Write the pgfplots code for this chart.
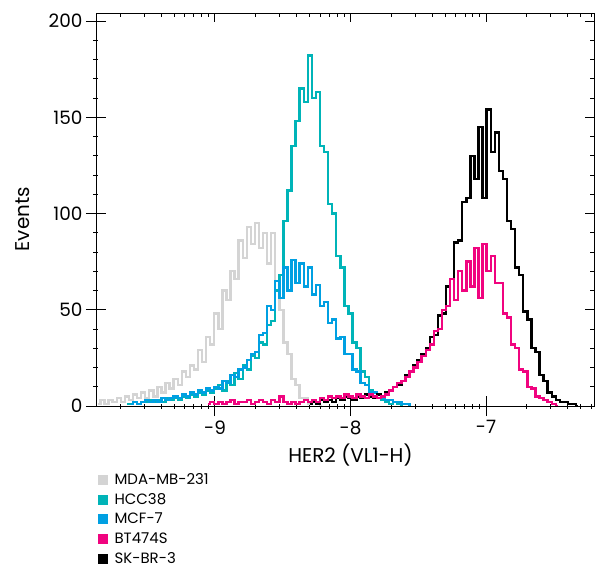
\documentclass[border=0pt]{standalone}
\usepackage{fontspec}
\setmainfont{Poppins}
\usepackage{pgfplots}
\pgfplotsset{compat=1.18}
\definecolor{mdagray}{RGB}{212,212,212}
\definecolor{hccteal}{RGB}{0,180,184}
\definecolor{mcfblue}{RGB}{0,160,226}
\definecolor{btpink}{RGB}{240,4,127}
\definecolor{skblack}{RGB}{0,0,0}
\begin{document}
\begin{tikzpicture}
\pgfplotsset{
  common/.style={
    scale only axis, width=498bp, height=392.5bp,
    xmin=-9.878, xmax=-6.203, ymin=0, ymax=203.9,
    xtick={-9,-8,-7}, ytick={0,50,100,150,200},
    minor xtick={-9.699,-9.523,-9.398,-9.301,-9.222,-9.155,-9.097,-9.046,
                 -8.699,-8.523,-8.398,-8.301,-8.222,-8.155,-8.097,-8.046,
                 -7.699,-7.523,-7.398,-7.301,-7.222,-7.155,-7.097,-7.046,
                 -6.699,-6.523,-6.398,-6.301,-6.222},
    minor ytick={10,20,30,40,60,70,80,90,110,120,130,140,160,170,180,190},
    axis line style={line width=1pt},
    every tick/.style={black, line width=1pt},
  },
  hist/.style={const plot mark mid, line width=2.4pt, line join=miter},
}
\begin{axis}[common, name=ax,
  xtick pos=left, ytick pos=left, tick align=center,
  major tick length=20bp, minor tick length=5bp,
  xticklabels={-9,-8,-7},
  /pgf/number format/assume math mode=true,
  tick label style={font=\fontsize{18.5}{20}\selectfont},
  xticklabel style={yshift=-1bp},
  xlabel={HER2 (VL1-H)}, ylabel={Events},
  every axis x label/.style={at={(axis description cs:0.511,-0.145)}, anchor=base, font=\fontsize{20}{24}\selectfont},
  every axis y label/.style={at={(axis description cs:-0.147,0.476)}, rotate=90, anchor=center, font=\fontsize{20}{24}\selectfont},
  legend style={at={(axis description cs:0.004,-0.166)}, anchor=north west, draw=none, fill=none,
    font=\fontsize{15}{18}\selectfont, row sep=3.3bp, inner sep=0pt},
  legend cell align=left,
  legend image code/.code={\fill[#1] (0bp,-4.5bp) rectangle (9bp,4.5bp); \path (14bp,0bp);},
]
% MDA-MB-231
\addplot[hist, mdagray, forget plot] coordinates {
(-9.86,1)(-9.83,3)(-9.80,1)(-9.77,3)(-9.74,2)(-9.71,4)(-9.68,2)(-9.65,5)(-9.62,3)(-9.59,6)
(-9.56,4)(-9.53,7)(-9.50,4)(-9.47,8)(-9.44,5)(-9.41,10)(-9.38,7)(-9.35,12)(-9.32,9)(-9.29,14)
(-9.26,11)(-9.23,18)(-9.20,15)(-9.17,21)(-9.14,19)(-9.11,29)(-9.08,23)(-9.05,36)(-9.02,32)(-8.99,48)
(-8.96,40)(-8.93,60)(-8.90,55)(-8.87,70)(-8.84,66)(-8.81,86)(-8.78,77)(-8.75,93)(-8.72,84)(-8.69,95)
(-8.66,82)(-8.63,90)(-8.60,74)(-8.57,90)(-8.54,60)(-8.51,50)(-8.48,33)(-8.45,27)(-8.42,14)(-8.39,11)
(-8.36,4)(-8.33,4)(-8.30,1)(-8.27,2)(-8.24,1)(-8.21,0)};
% HCC38
\addplot[hist, hccteal, forget plot] coordinates {
(-9.65,1)(-9.62,1)(-9.59,2)(-9.56,1)(-9.53,2)(-9.50,2)(-9.47,3)(-9.44,2)(-9.41,3)(-9.38,2)
(-9.35,4)(-9.32,3)(-9.29,4)(-9.26,3)(-9.23,5)(-9.20,4)(-9.17,6)(-9.14,5)(-9.11,7)(-9.08,6)
(-9.05,8)(-9.02,7)(-8.99,9)(-8.96,11)(-8.93,8)(-8.90,13)(-8.87,11)(-8.84,17)(-8.81,14)(-8.78,21)
(-8.75,19)(-8.72,26)(-8.69,25)(-8.66,33)(-8.63,32)(-8.60,42)(-8.57,44)(-8.54,60)(-8.51,68)(-8.48,96)
(-8.45,112)(-8.42,135)(-8.39,148)(-8.36,165)(-8.33,158)(-8.30,182)(-8.27,160)(-8.24,163)(-8.21,135)(-8.18,132)
(-8.15,105)(-8.12,100)(-8.09,78)(-8.06,72)(-8.03,52)(-8.00,48)(-7.97,33)(-7.94,30)(-7.91,18)(-7.88,15)
(-7.85,8)(-7.82,7)(-7.79,4)(-7.76,3)(-7.73,2)(-7.70,1)(-7.67,2)(-7.64,1)(-7.61,0)};
% MCF-7
\addplot[hist, mcfblue, forget plot] coordinates {
(-9.62,1)(-9.59,2)(-9.56,1)(-9.53,2)(-9.50,3)(-9.47,2)(-9.44,3)(-9.41,2)(-9.38,4)(-9.35,3)
(-9.32,4)(-9.29,5)(-9.26,4)(-9.23,6)(-9.20,5)(-9.17,7)(-9.14,6)(-9.11,8)(-9.08,7)(-9.05,9)
(-9.02,8)(-8.99,10)(-8.96,9)(-8.93,13)(-8.90,12)(-8.87,16)(-8.84,15)(-8.81,19)(-8.78,20)(-8.75,24)
(-8.72,27)(-8.69,28)(-8.66,37)(-8.63,38)(-8.60,52)(-8.57,50)(-8.54,65)(-8.51,56)(-8.48,72)(-8.45,60)
(-8.42,76)(-8.39,64)(-8.36,74)(-8.33,62)(-8.30,72)(-8.27,58)(-8.24,63)(-8.21,52)(-8.18,54)(-8.15,43)
(-8.12,45)(-8.09,35)(-8.06,36)(-8.03,27)(-8.00,27)(-7.97,19)(-7.94,18)(-7.91,12)(-7.88,11)(-7.85,7)
(-7.82,7)(-7.79,4)(-7.76,4)(-7.73,3)(-7.70,3)(-7.67,2)(-7.64,2)(-7.61,1)(-7.58,1)(-7.55,0)};
% SK-BR-3
\addplot[hist, skblack, forget plot] coordinates {
(-8.30,1)(-8.27,2)(-8.24,1)(-8.21,3)(-8.18,2)(-8.15,3)(-8.12,2)(-8.09,4)(-8.06,3)(-8.03,5)
(-8.00,4)(-7.97,3)(-7.94,5)(-7.91,4)(-7.88,6)(-7.85,5)(-7.82,4)(-7.79,6)(-7.76,5)(-7.73,7)
(-7.70,8)(-7.67,10)(-7.64,11)(-7.61,13)(-7.58,16)(-7.55,18)(-7.52,21)(-7.49,24)(-7.46,27)(-7.43,30)
(-7.40,36)(-7.37,37)(-7.34,47)(-7.31,48)(-7.28,62)(-7.25,66)(-7.22,85)(-7.19,86)(-7.16,106)(-7.13,108)
(-7.10,130)(-7.07,118)(-7.04,145)(-7.01,108)(-6.98,154)(-6.95,132)(-6.92,142)(-6.89,122)(-6.86,118)(-6.83,96)
(-6.80,92)(-6.77,72)(-6.74,68)(-6.71,49)(-6.68,45)(-6.65,30)(-6.62,28)(-6.59,16)(-6.56,13)(-6.53,7)
(-6.50,5)(-6.47,3)(-6.44,2)(-6.41,2)(-6.38,1)(-6.35,1)(-6.32,0)};
% BT474S
\addplot[hist, btpink, forget plot] coordinates {
(-9.05,1)(-9.02,2)(-8.99,1)(-8.96,2)(-8.93,1)(-8.90,2)(-8.87,3)(-8.84,1)(-8.81,2)(-8.78,2)
(-8.75,3)(-8.72,1)(-8.69,2)(-8.66,3)(-8.63,2)(-8.60,1)(-8.57,3)(-8.54,2)(-8.51,5)(-8.48,2)
(-8.45,1)(-8.42,2)(-8.39,1)(-8.36,2)(-8.33,3)(-8.30,2)(-8.27,3)(-8.24,2)(-8.21,4)(-8.18,3)
(-8.15,5)(-8.12,4)(-8.09,5)(-8.06,4)(-8.03,6)(-8.00,5)(-7.97,4)(-7.94,6)(-7.91,5)(-7.88,4)
(-7.85,6)(-7.82,5)(-7.79,4)(-7.76,5)(-7.73,6)(-7.70,8)(-7.67,10)(-7.64,12)(-7.61,13)(-7.58,15)
(-7.55,18)(-7.52,20)(-7.49,23)(-7.46,26)(-7.43,29)(-7.40,32)(-7.37,39)(-7.34,40)(-7.31,50)(-7.28,52)
(-7.25,66)(-7.22,55)(-7.19,70)(-7.16,60)(-7.13,75)(-7.10,62)(-7.07,82)(-7.04,56)(-7.01,84)(-6.98,70)
(-6.95,78)(-6.92,64)(-6.89,64)(-6.86,48)(-6.83,46)(-6.80,32)(-6.77,30)(-6.74,19)(-6.71,18)(-6.68,10)
(-6.65,9)(-6.62,5)(-6.59,4)(-6.56,3)(-6.53,2)(-6.50,1)(-6.47,0)};
\addlegendimage{color=mdagray}
\addlegendimage{color=hccteal}
\addlegendimage{color=mcfblue}
\addlegendimage{color=btpink}
\addlegendimage{color=skblack}
\legend{MDA-MB-231, HCC38, MCF-7, BT474S, SK-BR-3}
\end{axis}
\begin{axis}[common,
  xtick pos=right, ytick pos=right, tick align=inside,
  major tick length=9bp, minor tick length=4bp,
  xticklabels={}, yticklabels={},
]
\end{axis}
\pgfresetboundingbox
\path ([shift={(-96bp,-164bp)}]ax.south west) rectangle ([shift={(1bp,13.5bp)}]ax.north east);
\end{tikzpicture}
\end{document}
